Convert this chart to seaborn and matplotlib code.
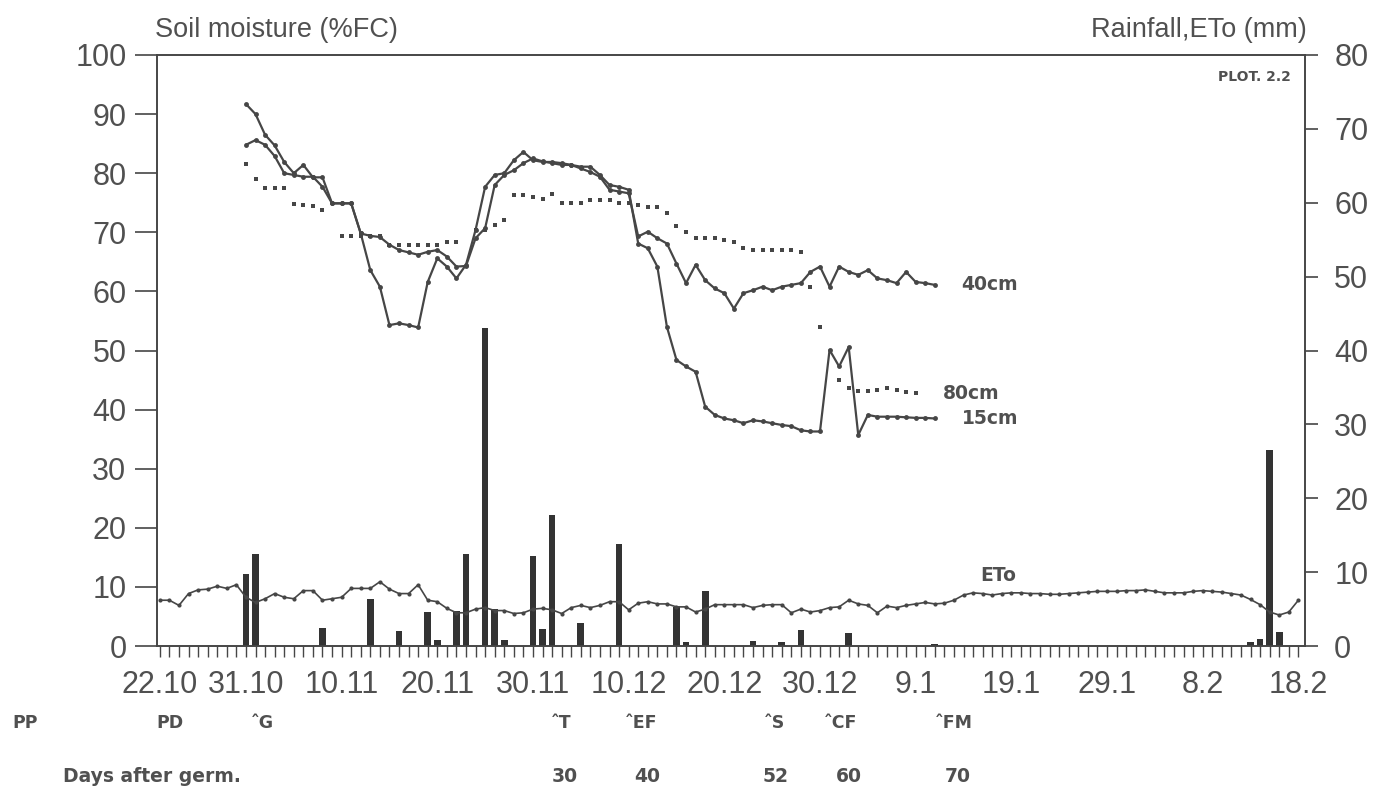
import numpy as np
import pandas as pd
import seaborn as sns
import matplotlib.pyplot as plt
import matplotlib.transforms as mtransforms

# x axis = days counted from 22.10
date_labels = ["22.10", "31.10", "10.11", "20.11", "30.11", "10.12", "20.12",
               "30.12", "9.1", "19.1", "29.1", "8.2", "18.2"]
date_days = [0, 9, 19, 29, 39, 49, 59, 69, 79, 89, 99, 109, 119]

# soil moisture (%FC)
moist_days = list(range(9, 82))
sm_15cm = [91.7,
           90.0, 86.5, 84.7, 81.9, 80.0, 81.4, 79.3, 79.3, 74.9, 74.9,
           74.9, 69.8, 63.6, 60.8, 54.3, 54.6, 54.3, 53.9, 61.6, 65.6,
           64.2, 62.2, 64.5, 70.4, 77.7, 79.7, 80.0, 82.2, 83.6, 82.2,
           81.9, 81.9, 81.7, 81.4, 81.1, 81.1, 79.7, 78.0, 77.7, 77.2,
           68.1, 67.3, 64.2, 54.0, 48.4, 47.3, 46.4, 40.5, 39.1, 38.5,
           38.2, 37.7, 38.2, 38.0, 37.7, 37.4, 37.2, 36.5, 36.3, 36.3,
           50.1, 47.3, 50.6, 35.7, 39.1, 38.8, 38.8, 38.8, 38.7, 38.6,
           38.6, 38.5]
sm_40cm = [84.8,
           85.6, 84.8, 82.9, 80.0, 79.7, 79.4, 79.4, 77.7, 74.9, 74.9,
           74.9, 69.8, 69.4, 69.2, 67.9, 67.0, 66.6, 66.2, 66.7, 67.0,
           65.9, 64.2, 64.3, 69.0, 70.7, 78.0, 79.7, 80.5, 81.7, 82.5,
           82.0, 81.7, 81.4, 81.4, 80.8, 80.2, 79.4, 77.2, 76.9, 76.6,
           69.3, 70.1, 69.0, 68.1, 64.7, 61.4, 64.5, 61.9, 60.5, 59.7,
           57.1, 59.7, 60.2, 60.8, 60.2, 60.8, 61.1, 61.4, 63.3, 64.2,
           60.8, 64.2, 63.3, 62.8, 63.6, 62.2, 61.9, 61.4, 63.3, 61.6,
           61.4, 61.1]
sm80_days = list(range(9, 80))
sm_80cm = [81.6,
           79.1, 77.5, 77.5, 77.5, 74.8, 74.6, 74.4, 73.8, np.nan, 69.4,
           69.4, 69.4, 69.4, 69.4, 67.9, 67.9, 67.9, 67.9, 67.9, 67.9,
           68.4, 68.4, np.nan, 70.4, 70.4, 71.2, 72.1, 76.3, 76.3, 75.9,
           75.6, 76.5, 75.0, 75.0, 75.0, 75.5, 75.5, 75.5, 74.9, 74.9,
           74.6, 74.3, 74.3, 73.2, 71.0, 70.1, 69.0, 69.0, 69.0, 68.7,
           68.4, 67.3, 67.0, 67.0, 67.0, 67.0, 67.0, 66.7, 60.8, 54.0,
           np.nan, 45.0, 43.6, 43.1, 43.1, 43.3, 43.6, 43.3, 43.0, 42.8]

# reference evapotranspiration (mm)
eto_days = list(range(0, 120))
eto_mm = [6.2, 6.2, 5.5, 7.1, 7.6, 7.7, 8.1, 7.8, 8.3, 6.6,
          5.9, 6.4, 7.1, 6.6, 6.4, 7.5, 7.5, 6.2, 6.4, 6.6,
          7.8, 7.8, 7.8, 8.7, 7.7, 7.1, 7.1, 8.3, 6.2, 6.0,
          5.1, 4.5, 4.5, 5.0, 5.2, 4.8, 4.8, 4.4, 4.5, 5.0,
          5.1, 4.9, 4.4, 5.2, 5.5, 5.2, 5.5, 6.0, 6.0, 4.9,
          5.8, 6.0, 5.7, 5.7, 5.3, 5.3, 4.6, 5.0, 5.6, 5.6,
          5.6, 5.6, 5.2, 5.5, 5.6, 5.6, 4.5, 5.0, 4.6, 4.8,
          5.2, 5.3, 6.2, 5.7, 5.5, 4.5, 5.4, 5.2, 5.5, 5.7,
          5.9, 5.7, 5.8, 6.2, 6.9, 7.2, 7.1, 6.9, 7.1, 7.2,
          7.2, 7.1, 7.1, 7.0, 7.0, 7.1, 7.2, 7.3, 7.4, 7.4,
          7.4, 7.5, 7.5, 7.6, 7.4, 7.2, 7.2, 7.2, 7.4, 7.5,
          7.4, 7.3, 7.1, 6.9, 6.3, 5.6, 4.6, 4.2, 4.6, 6.2]

# rainfall (mm)
rain_days = [9, 10, 17, 22, 25, 28, 29, 31, 32, 34, 35, 36, 39, 40, 41, 44,
             48, 54, 55, 57, 62, 65, 67, 72, 81, 114, 115, 116, 117]
rain_mm = [9.8, 12.5, 2.4, 6.4, 2.0, 4.6, 0.8, 4.8, 12.5, 43.0, 5.0, 0.8,
           12.2, 2.3, 17.7, 3.1, 13.8, 5.3, 0.5, 7.4, 0.7, 0.5, 2.2, 1.8,
           0.3, 0.6, 0.9, 26.5, 1.9]

# crop stages and days after germination
stage_labels = ["PD", "\u02c6G", "\u02c6T", "\u02c6EF", "\u02c6S", "\u02c6CF", "\u02c6FM"]
stage_days = [1.1, 10.7, 41.9, 50.3, 64.2, 71.2, 83.0]
dag_labels = ["30", "40", "52", "60", "70"]
dag_days = [42.3, 50.9, 64.4, 72.0, 83.4]

sns.set_style("ticks")
plt.rcParams["font.family"] = ["Liberation Sans", "DejaVu Sans"]

INK = "#464646"
TXT = "#505050"
BOLD = dict(family="DejaVu Sans", fontweight="bold", color=TXT)

fig = plt.figure(figsize=(13.94, 7.89), dpi=100)
ax = fig.add_axes([0.1126, 0.1812, 0.8236, 0.7491])
ax2 = ax.twinx()

# rainfall bars and ETo on the right axis
rain = pd.DataFrame({"day": rain_days, "mm": rain_mm})
sns.barplot(data=rain, x="day", y="mm", native_scale=True, width=0.7,
            color="#333333", saturation=1, errorbar=None, linewidth=0, ax=ax2)
sns.lineplot(x=eto_days, y=eto_mm, color=INK, linewidth=1.2, marker="o",
             markersize=3, markeredgewidth=0, ax=ax2)

# soil moisture on the left axis
moist = pd.DataFrame({"day": moist_days, "15cm": sm_15cm, "40cm": sm_40cm})
moist = moist.melt(id_vars="day", var_name="depth", value_name="fc")
sns.lineplot(data=moist, x="day", y="fc", units="depth", estimator=None,
             color=INK, linewidth=1.6, marker="o", markersize=3.5,
             markeredgewidth=0, ax=ax)
sns.scatterplot(x=sm80_days, y=sm_80cm, marker="s", s=10, color=INK,
                linewidth=0, ax=ax)

ax.set_xlim(-0.3, 119.7)
ax.set_ylim(0, 100)
ax2.set_ylim(0, 80)
ax.set_xticks(date_days)
ax.set_xticklabels(date_labels)
ax.set_xticks(range(0, 120), minor=True)
ax.set_yticks(range(0, 101, 10))
ax2.set_yticks(range(0, 81, 10))
for a in (ax, ax2):
    a.set_xlabel("")
    a.set_ylabel("")
    for s in a.spines.values():
        s.set_visible(True)
        s.set_linewidth(1.2)
        s.set_color(INK)

ax.tick_params(axis="y", direction="out", length=16, width=1.2, pad=6,
               labelsize=22, color=INK, labelcolor=TXT)
ax2.tick_params(axis="y", direction="out", length=9, width=1.2, pad=12,
                labelsize=22, color=INK, labelcolor=TXT)
ax.tick_params(axis="x", which="both", direction="out", length=8, width=1.0,
               color=INK)
ax.tick_params(axis="x", which="major", pad=9, labelsize=22, labelcolor=TXT)

fig.text(155 / 1394, 1 - 30 / 789, "Soil moisture (%FC)", ha="left",
         va="center", fontsize=19.5, color=TXT)
fig.text(1307 / 1394, 1 - 30 / 789, "Rainfall,ETo (mm)", ha="right",
         va="center", fontsize=19.5, color=TXT)
fig.text(1291 / 1394, 1 - 77 / 789, "PLOT. 2.2", ha="right", va="center",
         fontsize=10, **BOLD)

# curve labels
ax.text(moist_days[-1] + 2.8, sm_40cm[-1], "40cm", ha="left", va="center",
        fontsize=13.5, **BOLD)
ax.text(moist_days[-1] + 2.8, sm_15cm[-1], "15cm", ha="left", va="center",
        fontsize=13.5, **BOLD)
ax.text(sm80_days[-1] + 2.8, sm_80cm[-1], "80cm", ha="left", va="center",
        fontsize=13.5, **BOLD)
ax2.text(87.6, 9.6, "ETo", ha="center", va="center", fontsize=13.5, **BOLD)

# stage annotations under the axis
trans = mtransforms.blended_transform_factory(ax.transData, fig.transFigure)
fig.text(25 / 1394, 1 - 723 / 789, "PP", ha="center", va="center",
         fontsize=12.5, **BOLD)
for lab, d in zip(stage_labels, stage_days):
    ax.text(d, 1 - 723 / 789, lab, transform=trans, ha="center", va="center",
            fontsize=12.5, clip_on=False, **BOLD)
fig.text(63 / 1394, 1 - 776 / 789, "Days after germ.", ha="left",
         va="center", fontsize=13.5, **BOLD)
for lab, d in zip(dag_labels, dag_days):
    ax.text(d, 1 - 776 / 789, lab, transform=trans, ha="center", va="center",
            fontsize=13.5, clip_on=False, **BOLD)

fig.savefig("out.png", dpi=100)
